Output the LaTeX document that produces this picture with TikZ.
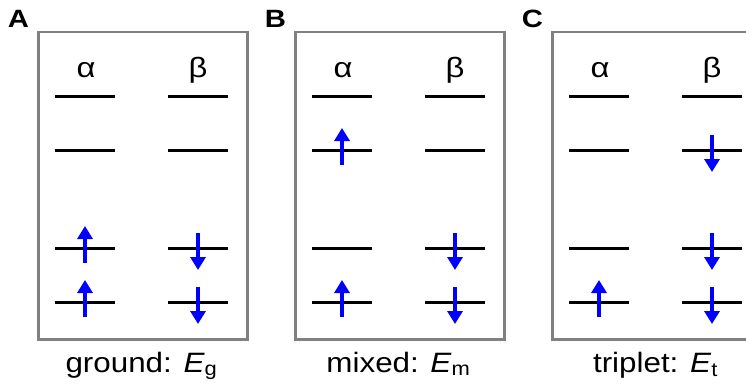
\documentclass[tikz,border=0pt]{standalone}
\usepackage{fontspec}
\setmainfont{Liberation Sans}
\usetikzlibrary{arrows.meta}
\newcommand{\hstretch}[2]{\scalebox{#1}[1]{#2}}
\begin{document}
\begin{tikzpicture}[x=1pt,y=-1pt,
  panelbox/.style={draw=black!50,line width=2.5pt},
  level/.style={line width=3pt},
  spinup/.style={draw=blue,line width=4pt,-{Triangle[width=15pt,length=13pt]}},
  spindown/.style={draw=blue,line width=4pt,-{Triangle[width=15pt,length=13pt]}},
  spinlabel/.style={font=\fontsize{28}{30}\selectfont,inner sep=0pt,anchor=base},
  panellabel/.style={font=\fontsize{25}{28}\selectfont\bfseries,inner sep=0pt,anchor=base},
  caption/.style={font=\fontsize{28}{30}\selectfont,inner sep=0pt,anchor=base}]
\useasboundingbox (0,0) rectangle (746,385);
\clip (0,0) rectangle (746,385);
\foreach \px/\lab/\cap [count=\i] in {37/A/{ground: \textit{E}\textsubscript{g}},294/B/{mixed: \textit{E}\textsubscript{m}},551/C/{triplet: \textit{E}\textsubscript{t}}}{
  \begin{scope}[xshift=\px]
    \node[panelbox,minimum width=209pt,minimum height=307pt,inner sep=0pt,anchor=north west] (box\i) at (0,31) {};
    \node[panellabel] (lab\i) at (-18.5,28) {\hstretch{1.17}{\lab}};
    \node[spinlabel] (al\i) at (49,78) {\hstretch{1.17}{α}};
    \node[spinlabel] (be\i) at (161,78) {\hstretch{1.17}{β}};
    \node[caption] (cap\i) at (104.5,372) {\hstretch{1.12}{\cap}};
    \foreach \ly [count=\j] in {97,150,248,302}{
      \coordinate (a\i\j) at (48,\ly);
      \coordinate (b\i\j) at (161,\ly);
      \draw[level] (18,\ly) -- (78,\ly);
      \draw[level] (131,\ly) -- (191,\ly);
    }
  \end{scope}
}
% spin arrows
\foreach \n in {a13,a14,a22,a24,a34}{
  \draw[spinup] ([yshift=-15pt]\n) -- ([yshift=22pt]\n);
}
\foreach \n in {b13,b14,b23,b24,b32,b33,b34}{
  \draw[spindown] ([yshift=15pt]\n) -- ([yshift=-22pt]\n);
}
\end{tikzpicture}
\end{document}
